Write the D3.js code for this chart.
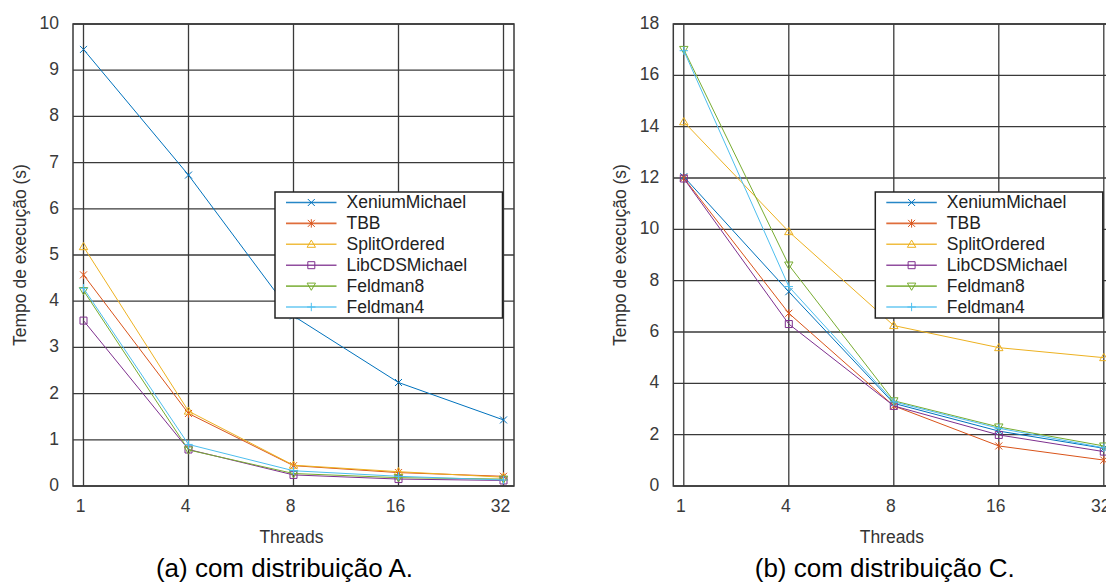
<!DOCTYPE html>
<html>
<head>
<meta charset="utf-8">
<script src="https://cdn.jsdelivr.net/npm/d3@7"></script>
<style>
  body { margin: 0; background: #fff; }
  svg { display: block; font-family: "Liberation Sans", Arial, sans-serif; }
  .tick-label { fill: #3a3a3a; font-size: 17.5px; }
  .axis-title { fill: #333; font-size: 17.5px; }
  .legend-text { fill: #222; font-size: 17.5px; }
  .caption { fill: #000; font-size: 26px; }
</style>
</head>
<body>
<svg id="chart" width="1106" height="585"></svg>
<script>
// ---------------------------- DATA ----------------------------
const threads = ["1", "4", "8", "16", "32"];
const seriesNames = ["XeniumMichael", "TBB", "SplitOrdered", "LibCDSMichael", "Feldman8", "Feldman4"];

// (a) distribuição A - tempo em segundos
const xeniumA   = [9.45, 6.73, 3.68, 2.24, 1.43];
const tbbA      = [4.57, 1.57, 0.44, 0.29, 0.21];
const splitA    = [5.18, 1.62, 0.45, 0.31, 0.19];
const libcdsA   = [3.58, 0.79, 0.24, 0.15, 0.12];
const feldman8A = [4.23, 0.78, 0.27, 0.18, 0.15];
const feldman4A = [4.28, 0.90, 0.33, 0.21, 0.13];

// (b) distribuição C
const xeniumC   = [12.05, 7.57, 3.22, 2.14, 1.47];
const tbbC      = [12.00, 6.73, 3.12, 1.56, 1.01];
const splitC    = [14.19, 9.91, 6.25, 5.39, 5.00];
const libcdsC   = [11.98, 6.31, 3.12, 1.99, 1.34];
const feldman8C = [17.01, 8.61, 3.32, 2.30, 1.56];
const feldman4C = [16.96, 7.77, 3.28, 2.25, 1.49];

const yTicksA = [0, 1, 2, 3, 4, 5, 6, 7, 8, 9, 10];
const yTicksC = [0, 2, 4, 6, 8, 10, 12, 14, 16, 18];

// ---------------------------- STYLE ----------------------------
const colours = ["#0072BD", "#D95319", "#EDB120", "#7E2F8E", "#77AC30", "#4DBEEE"];
const markers = [
    "M-3.5,-3.5L3.5,3.5M-3.5,3.5L3.5,-3.5",                       // x
    "M-3.5,-3.5L3.5,3.5M-3.5,3.5L3.5,-3.5M0,-4.2V4.2",            // star
    "M0,-4.2L4.2,3L-4.2,3Z",                                       // triangle up
    "M-3.5,-3.5H3.5V3.5H-3.5Z",                                    // square
    "M0,4.2L4.2,-3L-4.2,-3Z",                                      // triangle down
    "M-4.2,0H4.2M0,-4.2V4.2"                                       // plus
];

const plotW = 441;
const plotH = 462;
const gridColour = "#3a3a3a";

const svg = d3.select("#chart");

function drawPanel(offsetX, yMax, yTicks, data, caption) {
    const g = svg.append("g").attr("transform", "translate(" + offsetX + ",24)");

    const x = d3.scalePoint().domain(threads).range([0, plotW]).padding(0.1);
    const y = d3.scaleLinear().domain([0, yMax]).range([plotH, 0]);

    // Grid
    g.selectAll(".hgrid")
        .data(yTicks)
        .enter()
        .append("line")
        .attr("x1", 0).attr("x2", plotW)
        .attr("y1", d => y(d)).attr("y2", d => y(d))
        .attr("stroke", gridColour)
        .attr("stroke-width", 1.3);
    g.selectAll(".vgrid")
        .data(threads)
        .enter()
        .append("line")
        .attr("x1", d => x(d)).attr("x2", d => x(d))
        .attr("y1", 0).attr("y2", plotH)
        .attr("stroke", gridColour)
        .attr("stroke-width", 1.3);

    // Border
    g.append("rect")
        .attr("width", plotW)
        .attr("height", plotH)
        .attr("fill", "none")
        .attr("stroke", gridColour)
        .attr("stroke-width", 1.5);

    // Tick labels
    g.selectAll(".ytick")
        .data(yTicks)
        .enter()
        .append("text")
        .attr("class", "tick-label")
        .attr("x", -14)
        .attr("y", d => y(d) + 5)
        .attr("text-anchor", "end")
        .text(d => d);
    g.selectAll(".xtick")
        .data(threads)
        .enter()
        .append("text")
        .attr("class", "tick-label")
        .attr("x", d => x(d) - 3)
        .attr("y", plotH + 26)
        .attr("text-anchor", "middle")
        .text(d => d);

    // Axis titles
    g.append("text")
        .attr("class", "axis-title")
        .attr("text-anchor", "middle")
        .attr("transform", "translate(-47," + (plotH / 2) + ") rotate(-90)")
        .text("Tempo de execução (s)");
    g.append("text")
        .attr("class", "axis-title")
        .attr("text-anchor", "middle")
        .attr("x", plotW / 2 - 2)
        .attr("y", plotH + 57)
        .text("Threads");

    // Lines and markers
    const line = d3.line()
        .x((d, i) => x(threads[i]))
        .y(d => y(d));
    data.forEach((values, s) => {
        g.append("path")
            .datum(values)
            .attr("d", line)
            .attr("fill", "none")
            .attr("stroke", colours[s])
            .attr("stroke-width", 1);
        g.selectAll(".m" + s)
            .data(values)
            .enter()
            .append("path")
            .attr("d", markers[s])
            .attr("transform", (d, i) => "translate(" + x(threads[i]) + "," + y(d) + ")")
            .attr("fill", "none")
            .attr("stroke", colours[s])
            .attr("stroke-width", 1);
    });

    // Legend
    const legend = g.append("g").attr("transform", "translate(202,168)");
    legend.append("rect")
        .attr("width", 227.5)
        .attr("height", 126)
        .attr("fill", "#fff")
        .attr("stroke", "#222")
        .attr("stroke-width", 1.5);
    seriesNames.forEach((name, s) => {
        const rowY = 10.5 + s * 20.9;
        legend.append("line")
            .attr("x1", 11).attr("x2", 61.5)
            .attr("y1", rowY).attr("y2", rowY)
            .attr("stroke", colours[s])
            .attr("stroke-width", 1.6)
            .attr("stroke-opacity", 0.85);
        legend.append("path")
            .attr("d", markers[s])
            .attr("transform", "translate(36.3," + rowY + ")")
            .attr("fill", "none")
            .attr("stroke", colours[s])
            .attr("stroke-width", 1);
        legend.append("text")
            .attr("class", "legend-text")
            .attr("x", 71.5)
            .attr("y", rowY + 5.8)
            .text(name);
    });

    // Caption
    svg.append("text")
        .attr("class", "caption")
        .attr("text-anchor", "middle")
        .attr("x", offsetX + plotW / 2 - 9)
        .attr("y", 577)
        .text(caption);
}

drawPanel(73, 10, yTicksA, [xeniumA, tbbA, splitA, libcdsA, feldman8A, feldman4A], "(a) com distribuição A.");
drawPanel(673.3, 18, yTicksC, [xeniumC, tbbC, splitC, libcdsC, feldman8C, feldman4C], "(b) com distribuição C.");
</script>
</body>
</html>
